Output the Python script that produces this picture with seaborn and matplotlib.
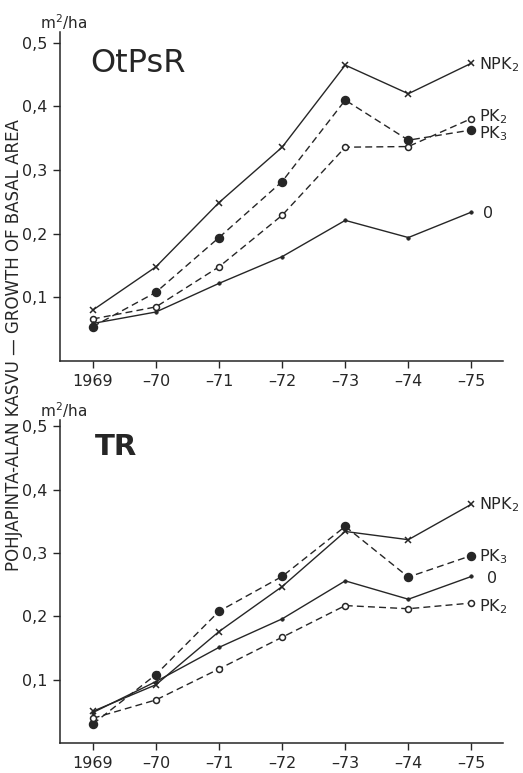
import matplotlib
matplotlib.use("Agg")
import matplotlib.pyplot as plt
import seaborn as sns
import pandas as pd

years = [1969, 1970, 1971, 1972, 1973, 1974, 1975]
year_labels = ["1969", "\u201370", "\u201371", "\u201372", "\u201373", "\u201374", "\u201375"]
y_ticks = [0.1, 0.2, 0.3, 0.4, 0.5]
y_tick_labels = ["0,1", "0,2", "0,3", "0,4", "0,5"]

# Panel OtPsR
otpsr_npk2 = [0.080, 0.148, 0.249, 0.336, 0.465, 0.420, 0.468]
otpsr_pk3 = [0.054, 0.108, 0.194, 0.282, 0.410, 0.347, 0.363]
otpsr_pk2 = [0.066, 0.085, 0.148, 0.229, 0.336, 0.337, 0.381]
otpsr_0 = [0.059, 0.077, 0.122, 0.164, 0.221, 0.194, 0.234]

# Panel TR
tr_npk2 = [0.050, 0.092, 0.176, 0.247, 0.334, 0.321, 0.377]
tr_pk3 = [0.030, 0.108, 0.208, 0.263, 0.342, 0.262, 0.296]
tr_0 = [0.048, 0.097, 0.151, 0.196, 0.256, 0.227, 0.263]
tr_pk2 = [0.039, 0.068, 0.117, 0.167, 0.217, 0.212, 0.221]

sns.set_theme(style="ticks")
plt.rcParams["font.family"] = ["DejaVu Sans"]

INK = "#262626"
styles = {
    "NPK$_2$": dict(marker="x", ms=5.0, mew=1.1, mfc=INK, mec=INK, dashed=False),
    "PK$_3$": dict(marker="o", ms=5.8, mew=1.0, mfc=INK, mec=INK, dashed=True),
    "PK$_2$": dict(marker="o", ms=4.3, mew=1.1, mfc="white", mec=INK, dashed=True),
    "0": dict(marker="o", ms=2.5, mew=0.5, mfc=INK, mec=INK, dashed=False),
}

W, H = 523, 773
fig = plt.figure(figsize=(W / 100, H / 100), dpi=100)

def draw_panel(rect, ylim_top, data, title, title_kw, title_pos, label_pos):
    ax = fig.add_axes(rect)
    for name, vals in data.items():
        st = styles[name]
        df = pd.DataFrame({"year": years, "val": vals})
        sns.lineplot(data=df, x="year", y="val", ax=ax, color=INK, lw=1.0,
                     marker=st["marker"], markersize=st["ms"], markeredgewidth=st["mew"],
                     markerfacecolor=st["mfc"], markeredgecolor=st["mec"], zorder=3)
        line = ax.lines[-1]
        if st["dashed"]:
            line.set_dashes((5, 3))
    ax.set_xlim(1968.48, 1975.5)
    ax.set_ylim(0, ylim_top)
    ax.set_xticks(years)
    ax.set_xticklabels(year_labels, fontsize=11.5, color=INK)
    ax.set_yticks(y_ticks)
    ax.set_yticklabels(y_tick_labels, fontsize=11.5, color=INK)
    ax.tick_params(axis="both", length=5, width=1.0, color=INK, pad=4)
    ax.set_xlabel("")
    ax.set_ylabel("")
    sns.despine(ax=ax)
    for s in ("left", "bottom"):
        ax.spines[s].set_color(INK)
        ax.spines[s].set_linewidth(1.1)
    ax.text(title_pos[0], title_pos[1], title, transform=ax.transAxes, color=INK, **title_kw)
    for name, (lx, ly) in label_pos.items():
        ax.text(lx, ly, name, fontsize=11.5, color=INK, va="center", ha="left")
    ax.text(-0.045, 1.0, "m$^2$/ha", transform=ax.transAxes, fontsize=11, color=INK,
            ha="left", va="bottom")
    return ax

top_rect = [60 / W, 1 - 361 / H, 443 / W, (361 - 32) / H]
bot_rect = [60 / W, 1 - 743 / H, 443 / W, (743 - 420) / H]

draw_panel(top_rect, 0.517,
           {"NPK$_2$": otpsr_npk2, "PK$_3$": otpsr_pk3, "PK$_2$": otpsr_pk2, "0": otpsr_0},
           "OtPsR", dict(fontsize=23, va="center", ha="left"), (0.068, 0.903),
           {"NPK$_2$": (1975.12, 0.466), "PK$_2$": (1975.12, 0.384),
            "PK$_3$": (1975.12, 0.357), "0": (1975.18, 0.232)})

draw_panel(bot_rect, 0.51,
           {"NPK$_2$": tr_npk2, "PK$_3$": tr_pk3, "0": tr_0, "PK$_2$": tr_pk2},
           "TR", dict(fontsize=21, fontweight="bold", va="center", ha="left"), (0.079, 0.916),
           {"NPK$_2$": (1975.12, 0.376), "PK$_3$": (1975.12, 0.295),
            "0": (1975.25, 0.259), "PK$_2$": (1975.12, 0.216)})

fig.text(14 / W, 1 - 345 / H, "POHJAPINTA-ALAN KASVU \u2014 GROWTH OF BASAL AREA",
         rotation=90, ha="center", va="center", fontsize=12, color=INK)

fig.savefig("out.png", dpi=100, facecolor="white")
